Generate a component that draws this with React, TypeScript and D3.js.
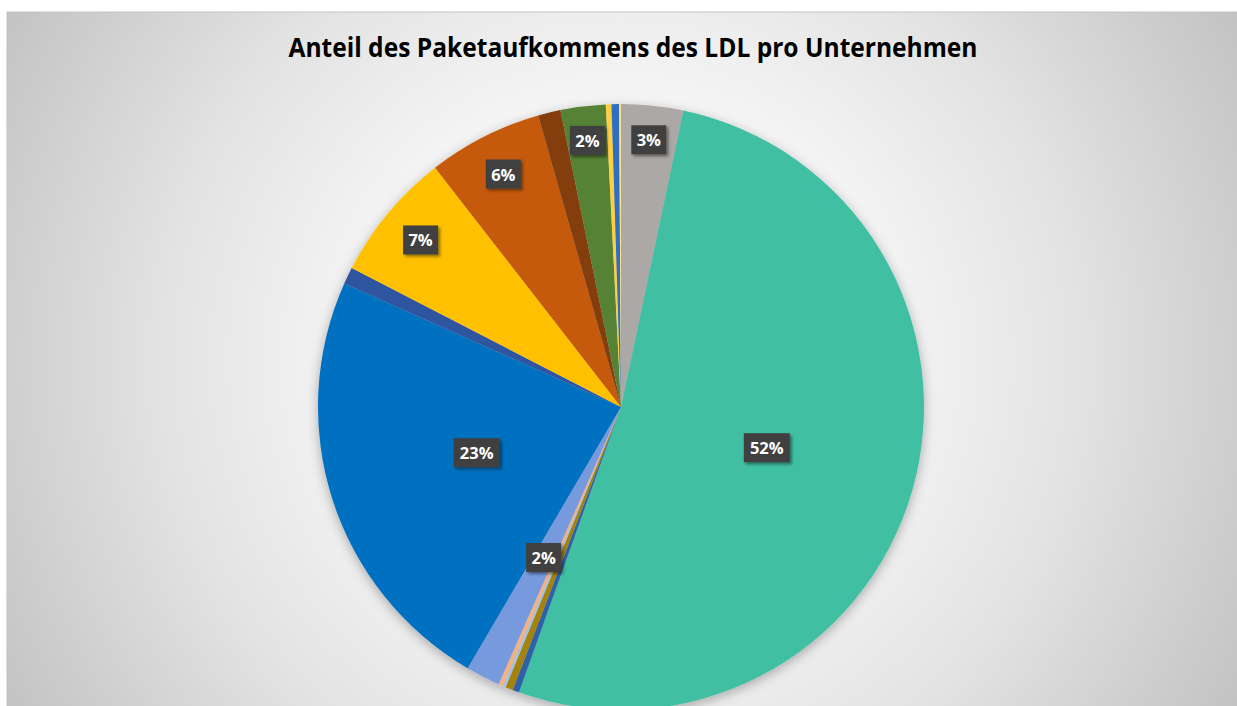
import React from "react";
import { pie, arc, scaleOrdinal, sum } from "d3";

const W = 1237;
const H = 706;

const title = "Anteil des Paketaufkommens des LDL pro Unternehmen";

// clockwise from 12 o'clock
const companies = [
  "U1", "U2", "U3", "U4", "U5", "U6", "U7", "U8",
  "U9", "U10", "U11", "U12", "U13", "U14", "U15", "U16",
];
const shares = [
  3.3, 52.1, 0.35, 0.4, 0.15, 0.25, 1.83, 23.2,
  0.9, 6.9, 6.1, 1.2, 2.4, 0.3, 0.4, 0.1,
];
const colors = [
  "#aca8a6", "#40bfa3", "#2e62a8", "#a3820a", "#9dc3e6", "#f4b183", "#779ade", "#0070c0",
  "#2f55a0", "#ffc000", "#c55a11", "#843c0c", "#548235", "#ffcf3f", "#2f6fbf", "#ffe08a",
];

const cx = 621;
const cy = 407;
const radius = 303;

export default function App() {
  const color = scaleOrdinal<string, string>().domain(companies).range(colors);
  const total = sum(shares);
  const data = companies.map((name, i) => ({ name, value: shares[i] }));

  const arcs = pie<{ name: string; value: number }>()
    .value((d) => d.value)
    .sort(null)(data);

  const arcGen = arc<any>().innerRadius(0).outerRadius(radius);

  const labels = arcs
    .map((a) => {
      const pct = (a.data.value / total) * 100;
      const mid = (a.startAngle + a.endAngle) / 2;
      let r = 0.885;
      if (pct > 10) r = 0.5;
      else if (mid > Math.PI / 2 && mid < (3 * Math.PI) / 2) r = 0.56;
      else if (pct > 5) r = 0.86;
      return {
        text: Math.round(pct) + "%",
        pct,
        x: cx + Math.sin(mid) * radius * r,
        y: cy - Math.cos(mid) * radius * r,
      };
    })
    .filter((l) => l.pct >= 1.5);

  return (
    <svg
      width={W}
      height={H}
      style={{ position: "absolute", left: 0, top: 0, background: "#fff" }}
      fontFamily="'Open Sans', sans-serif"
    >
      <defs>
        <radialGradient id="bg" gradientUnits="userSpaceOnUse" cx={620} cy={360} r={760}>
          <stop offset="0" stopColor="#ffffff" />
          <stop offset="0.3" stopColor="#f8f8f8" />
          <stop offset="0.6" stopColor="#e3e3e3" />
          <stop offset="1" stopColor="#bcbcbc" />
        </radialGradient>
        <filter id="pieShadow" x="-20%" y="-20%" width="140%" height="140%">
          <feDropShadow dx="0" dy="3" stdDeviation="6" floodColor="#000" floodOpacity="0.3" />
        </filter>
        <filter id="boxShadow" x="-30%" y="-30%" width="160%" height="160%">
          <feDropShadow dx="2" dy="2" stdDeviation="1.5" floodColor="#000" floodOpacity="0.45" />
        </filter>
      </defs>

      <rect x={7} y={12} width={W} height={H} fill="url(#bg)" stroke="#c4c4c4" />

      <text
        x={633}
        y={57}
        textAnchor="middle"
        fontSize={26}
        fontWeight="bold"
        fill="#000"
        textLength={689}
        lengthAdjust="spacingAndGlyphs"
      >
        {title}
      </text>

      <g transform={`translate(${cx},${cy})`} filter="url(#pieShadow)">
        {arcs.map((a, i) => (
          <path key={i} d={arcGen(a) as string} fill={color(a.data.name)} />
        ))}
      </g>

      {labels.map((l, i) => {
        const w = l.text.length > 2 ? 46 : 35;
        return (
          <g key={i} transform={`translate(${l.x},${l.y})`}>
            <rect x={-w / 2} y={-15} width={w} height={29} fill="#404040" filter="url(#boxShadow)" />
            <text
              x={0}
              y={6}
              textAnchor="middle"
              fontSize={16.5}
              fontWeight="bold"
              fill="#fff"
            >
              {l.text}
            </text>
          </g>
        );
      })}
    </svg>
  );
}
